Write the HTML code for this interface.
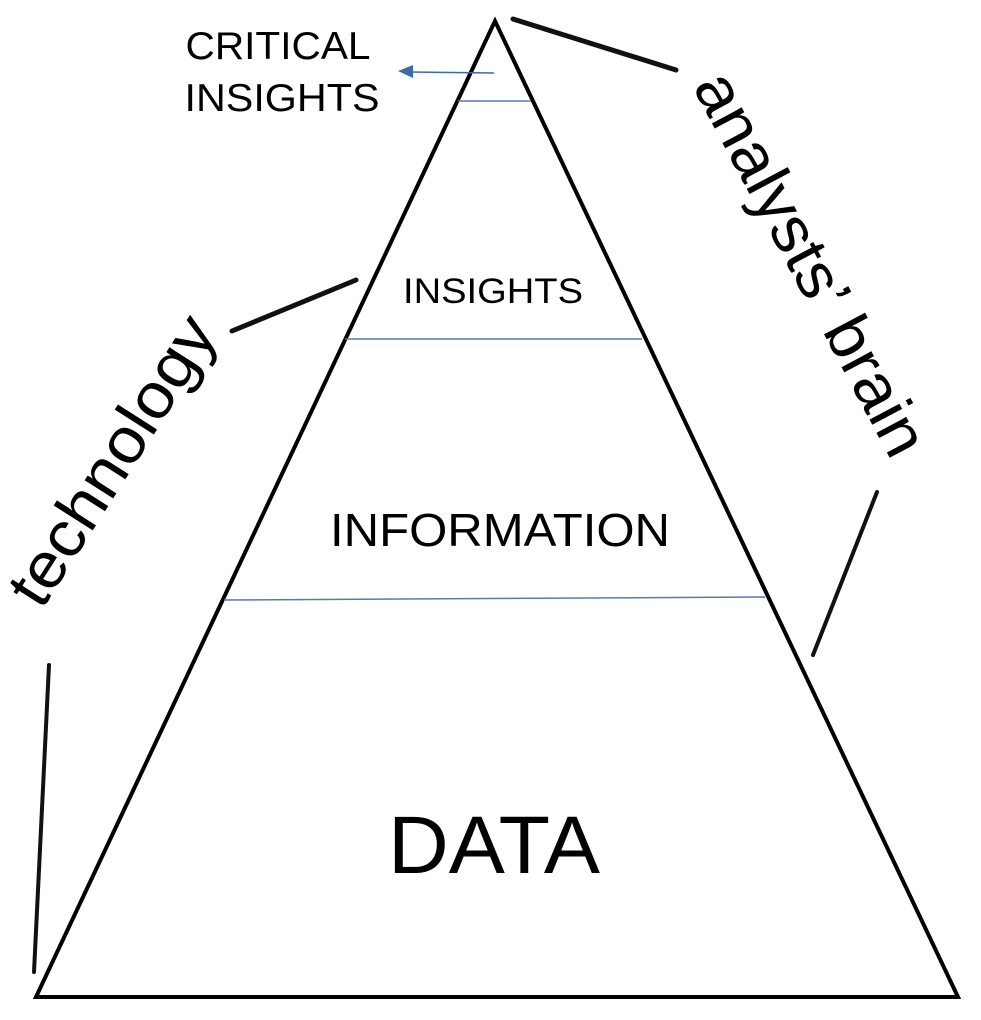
<!DOCTYPE html>
<html><head><meta charset="utf-8"><style>html,body{margin:0;padding:0;background:#fff}svg{display:block}</style></head>
<body>
<svg width="981" height="1020" viewBox="0 0 981 1020" xmlns="http://www.w3.org/2000/svg" font-family="Liberation Sans, sans-serif">
<polygon points="495,21 36,997 958,997" fill="none" stroke="#000" stroke-width="4" stroke-linejoin="miter"/>
<line x1="458" y1="101" x2="531" y2="101" stroke="#5a7ba6" stroke-width="1.5"/>
<line x1="345" y1="339" x2="642" y2="339" stroke="#5a7ba6" stroke-width="1.5"/>
<line x1="224" y1="600" x2="765" y2="597" stroke="#5a7ba6" stroke-width="1.5"/>
<line x1="494" y1="73" x2="410" y2="72" stroke="#3a6aa8" stroke-width="1.5"/>
<polygon points="398,71 413,65 413,78" fill="#3a6aa8"/>
<line x1="513" y1="19" x2="676" y2="70" stroke="#111" stroke-width="5" stroke-linecap="round"/>
<line x1="232" y1="331" x2="356" y2="280" stroke="#111" stroke-width="5" stroke-linecap="round"/>
<line x1="877" y1="492" x2="813" y2="655" stroke="#111" stroke-width="4" stroke-linecap="round"/>
<line x1="49" y1="665" x2="34" y2="972" stroke="#111" stroke-width="4" stroke-linecap="round"/>
<text x="278" y="59" font-size="39" text-anchor="middle" textLength="185" lengthAdjust="spacingAndGlyphs">CRITICAL</text>
<text x="282" y="111" font-size="39" text-anchor="middle" textLength="195" lengthAdjust="spacingAndGlyphs">INSIGHTS</text>
<text x="493" y="303" font-size="35" text-anchor="middle" textLength="180" lengthAdjust="spacingAndGlyphs">INSIGHTS</text>
<text x="500" y="546" font-size="46" text-anchor="middle" textLength="340" lengthAdjust="spacingAndGlyphs">INFORMATION</text>
<text x="494" y="873" font-size="82" text-anchor="middle" textLength="212" lengthAdjust="spacingAndGlyphs">DATA</text>
<text transform="translate(130,472) rotate(-57.5)" font-size="64" text-anchor="middle" textLength="330" lengthAdjust="spacingAndGlyphs">technology</text>
<text transform="translate(792,274) rotate(62)" font-size="64" text-anchor="middle" textLength="425" lengthAdjust="spacingAndGlyphs">analysts’ brain</text>
</svg>
</body></html>
